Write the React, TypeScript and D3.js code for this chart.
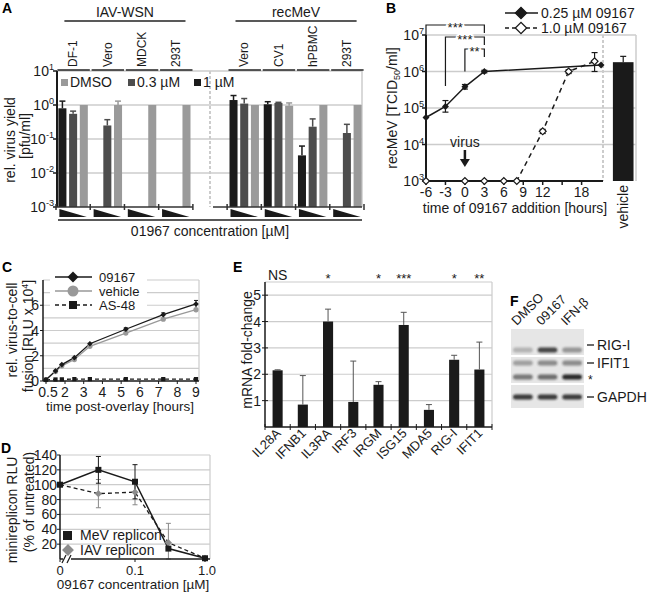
import React from "react";
import * as d3 from "d3";

const FONT = "'Liberation Sans', Arial, Helvetica, sans-serif";
const GRID = "#cccccc";
const INK = "#1a1a1a";

// ---------------- Panel A data ----------------
const aGroupLabels = ["DF-1", "Vero", "MDCK", "293T", "", "Vero", "CV1", "hPBMC", "293T"];
const aVirusNames = ["IAV-WSN", "recMeV"];
const aVirusFirst = [0, 5];
const aVirusLast = [3, 8];
const aSeriesNames = ["1 µM", "0.3 µM", "DMSO"];
const aSeriesColors = ["#1b1b1b", "#4d4d4d", "#9a9a9a"];
const aVal1uM = [0.8, 0, 0, 0, 0, 1.4, 1.05, 0.033, 0];
const aVal03uM = [0.55, 0.25, 0, 0, 0, 1.1, 1.15, 0.23, 0.15];
const aValDMSO = [1, 1, 1, 1, 0, 1, 0.95, 1, 1];
const aErr1uM = [1.3, 0, 0, 0, 0, 1.9, 1.25, 0.062, 0];
const aErr03uM = [0.66, 0.37, 0, 0, 0, 1.55, 1.2, 0.39, 0.27];
const aErrDMSO = [0, 1.3, 0, 0, 0, 0, 1.15, 0, 0];
const aYTicks = [10, 1, 0.1, 0.01, 0.001];
const aYTickExp = ["1", "0", "-1", "-2", "-3"];

// ---------------- Panel B data ----------------
const bHoursLow = [-6, -3, 0, 3, 21];
const bTiterLow = [5.5e4, 1.1e5, 3.8e5, 1.0e6, 1.5e6];
const bErrLowLo = [0, 7.7e4, 3.3e5, 9.2e5, 0];
const bErrLowHi = [0, 1.6e5, 4.4e5, 1.08e6, 0];
const bHoursHigh = [-6, 0, 3, 6, 8, 12, 16, 20];
const bTiterHigh = [1e3, 1e3, 1e3, 1e3, 1e3, 2.3e4, 1.0e6, 1.9e6];
const bErrHighLo = [0, 0, 0, 0, 0, 2.0e4, 8.8e5, 1.0e6];
const bErrHighHi = [0, 0, 0, 0, 0, 2.6e4, 1.12e6, 3.3e6];
const bVehicle = 1.8e6;
const bVehicleHi = 2.6e6;
const bXTicks = [-6, -3, 0, 3, 6, 9, 12, 15, 18];
const bXTickLabels = ["-6", "-3", "0", "3", "6", "9", "12", "", "18"];
const bYTicks = [1e3, 1e4, 1e5, 1e6, 1e7];
const bYTickExp = ["3", "4", "5", "6", "7"];
const bSigFrom = [-6, -3, 0];
const bSigTo = [3, 3, 3];
const bSigText = ["***", "***", "**"];
const bSigLegEnd = [1e7, 4e5, 1e6];
const bLegend = ["0.25 µM 09167", "1.0 µM 09167"];

// ---------------- Panel C data ----------------
const cTimes = [0.5, 1.25, 1.75, 2.5, 3.33, 5.25, 7.25, 9];
const c09167 = [0.1, 0.8, 1.3, 1.85, 2.95, 4.1, 5.25, 6.1];
const c09167Err = [0, 0.05, 0.08, 0.08, 0.1, 0.12, 0.15, 0.28];
const cVehicle = [0.1, 0.75, 1.2, 1.7, 2.75, 3.8, 4.9, 5.65];
const cVehicleErr = [0, 0.05, 0.08, 0.08, 0.1, 0.12, 0.15, 0.22];
const cAS48 = [0.1, 0.12, 0.13, 0.15, 0.15, 0.15, 0.15, 0.15];
const cXTicks = [0.5, 2, 3, 4, 5, 6, 7, 8, 9];
const cYTicks = [0, 2, 4, 6];
const cGrid = [1, 2, 3, 4, 5, 6, 7, 8];
const cLegend = ["09167", "vehicle", "AS-48"];

// ---------------- Panel D data ----------------
const dConc = [0, 0.03, 0.1, 0.3, 1.0];
const dMeV = [100, 120, 104, 14, 1];
const dMeVErr = [0, 18, 23, 0, 0];
const dIAV = [100, 88, 90, 22, 1];
const dIAVErr = [0, 19, 17, 26, 0];
const dYTicks = [20, 40, 60, 80, 100, 120, 140];
const dXTicks = [0, 0.1, 1.0];
const dXTickLabels = ["0", "0.1", "1.0"];
const dLegend = ["MeV replicon", "IAV replicon"];

// ---------------- Panel E data ----------------
const eGenes = ["IL28A", "IFNB1", "IL3RA", "IRF3", "IRGM", "ISG15", "MDA5", "RIG-I", "IFIT1"];
const eFold = [2.15, 0.85, 4.0, 0.95, 1.6, 3.87, 0.65, 2.55, 2.18];
const eErrHi = [2.17, 1.95, 4.47, 2.5, 1.72, 4.35, 0.85, 2.72, 3.22];
const eSig = ["NS", "", "*", "", "*", "***", "", "*", "**"];
const eYTicks = [1, 2, 3, 4, 5];

// ---------------- Panel F data ----------------
const fLanes = ["DMSO", "09167", "IFN-β"];
const fRigI = [0.25, 0.8, 0.4];
const fIfit1 = [0.35, 0.45, 0.45];
const fStar = [0.55, 0.6, 0.95];
const fGapdh = [0.85, 0.85, 0.85];

const Sup = ({ x, y, base, exp, size = 14, anchor = "end" }: any) => (
  <text x={x} y={y} fontSize={size} textAnchor={anchor} fill={INK}>
    {base}
    <tspan dy={-6} fontSize={size * 0.65}>{exp}</tspan>
  </text>
);

const Letter = ({ x, y, t }: any) => (
  <text x={x} y={y} fontSize={14} fontWeight="bold" fill="#000">{t}</text>
);

function diamond(size: number) {
  return d3.symbol().type(d3.symbolSquare).size(size)() as string;
}

function PanelA() {
  const n = aGroupLabels.length;
  const x = d3.scaleBand<number>().domain(d3.range(n)).range([56, 364]).paddingInner(0.14).paddingOuter(0.07);
  const bw = x.bandwidth();
  const gap = x.step() - bw;
  const sub = d3.scaleBand<number>().domain([0, 1, 2]).range([0, bw]).paddingInner(0.25);
  const y = d3.scaleLog().domain([1e-3, 10]).range([207, 71]);
  const L = 57, R = 362;
  const top = y(10), bottom = y(1e-3);
  const series = [aVal1uM, aVal03uM, aValDMSO];
  const errs = [aErr1uM, aErr03uM, aErrDMSO];
  const sepIdx = aGroupLabels.indexOf("");
  const sepX = (x(sepIdx) as number) + bw / 2;
  const groups = d3.range(n).filter((i) => aGroupLabels[i] !== "");
  const legendOrder = [2, 1, 0];
  const legendX = [61, 128, 194];
  return (
    <g>
      <Letter x={2} y={13} t="A" />
      {aYTicks.slice(0, -1).map((t) => (
        <line key={t} x1={L} x2={R} y1={y(t)} y2={y(t)} stroke={GRID} strokeWidth={1.5} />
      ))}
      <line x1={R} x2={R} y1={top} y2={bottom} stroke={GRID} strokeWidth={1.5} />
      <line x1={sepX} x2={sepX} y1={top} y2={bottom} stroke={GRID} strokeWidth={2} strokeDasharray="3,2" />
      {groups.map((i) =>
        series.map((s, k) => {
          const v = s[i];
          if (!v) return null;
          const bx = (x(i) as number) + (sub(k) as number);
          return <rect key={`${i}-${k}`} x={bx} y={y(v)} width={sub.bandwidth()} height={bottom - y(v)} fill={aSeriesColors[k]} />;
        })
      )}
      {groups.map((i) =>
        errs.map((e, k) => {
          const hi = e[i];
          const v = series[k][i];
          if (!hi || !v) return null;
          const cx = (x(i) as number) + (sub(k) as number) + sub.bandwidth() / 2;
          return (
            <g key={`e${i}-${k}`} stroke={aSeriesColors[k]} strokeWidth={1.5}>
              <line x1={cx} x2={cx} y1={y(v)} y2={y(hi)} />
              <line x1={cx - 3} x2={cx + 3} y1={y(hi)} y2={y(hi)} />
            </g>
          );
        })
      )}
      <line x1={L} x2={L} y1={top} y2={bottom} stroke={INK} strokeWidth={2} />
      {aYTicks.map((t, i) => (
        <g key={t}>
          <line x1={L - 4} x2={L} y1={y(t)} y2={y(t)} stroke={INK} strokeWidth={1.5} />
          <Sup x={L - 3} y={y(t) + 5} base="10" exp={aYTickExp[i]} size={14} />
        </g>
      ))}
      {aVirusFirst.map((f, vi) => {
        const l = aVirusLast[vi];
        const x0 = vi === 0 ? L : sepX + 3;
        const x1 = vi === 0 ? (x(l) as number) + bw + gap / 2 : R;
        const ticks = d3.range(f, l + 1).map((i) => (x(i) as number) - gap / 2).concat([(x(l) as number) + bw + gap / 2]);
        return (
          <g key={vi} stroke="#333" strokeWidth={1.5}>
            <line x1={x0} x2={x1} y1={bottom} y2={bottom} />
            {ticks.map((t, j) => (
              <line key={j} x1={t} x2={t} y1={bottom - 3} y2={bottom + 3} />
            ))}
          </g>
        );
      })}
      {groups.map((i) => {
        const x0 = (x(i) as number) + 1;
        const x1 = (x(i) as number) + bw - 1;
        return <path key={`w${i}`} d={`M${x0},209 L${x0},217 L${x1},217 Z`} fill={INK} />;
      })}
      <line x1={58} x2={R} y1={220} y2={220} stroke="#222" strokeWidth={1.5} />
      <text x={210} y={236} fontSize={14} textAnchor="middle" fill={INK}>01967 concentration [µM]</text>
      {groups.map((i) => (
        <g key={`g${i}`}>
          <text transform={`translate(${(x(i) as number) + bw / 2},67) rotate(-90)`} dy="0.35em" fontSize={12} fill={INK}>
            {aGroupLabels[i]}
          </text>
          <line x1={(x(i) as number) - 1} x2={(x(i) as number) + bw + 2} y1={top - 1} y2={top - 1} stroke="#222" strokeWidth={1.5} />
        </g>
      ))}
      {aVirusNames.map((name, vi) => {
        const x0 = (x(aVirusFirst[vi]) as number) + 6;
        const x1 = (x(aVirusLast[vi]) as number) + bw - 5;
        return (
          <g key={name}>
            <text x={(x0 + x1) / 2} y={17} fontSize={14} textAnchor="middle" fill={INK}>{name}</text>
            <line x1={x0} x2={x1} y1={21} y2={21} stroke="#222" strokeWidth={1.5} />
          </g>
        );
      })}
      {legendOrder.map((k, j) => (
        <g key={`l${k}`}>
          <rect x={legendX[j]} y={79} width={7} height={7} fill={aSeriesColors[k]} />
          <text x={legendX[j] + 9} y={87} fontSize={14} fill={INK}>{aSeriesNames[k]}</text>
        </g>
      ))}
      <text transform="translate(10,140) rotate(-90)" dy="0.35em" fontSize={14} textAnchor="middle" fill={INK}>rel. virus yield</text>
      <text transform="translate(25,136) rotate(-90)" dy="0.35em" fontSize={14} textAnchor="middle" fill={INK}>[pfu/ml]</text>
    </g>
  );
}

function PanelB() {
  const L = 426, R = 636;
  const x = d3.scaleLinear().domain([-6, 21.3]).range([L, 603]);
  const y = d3.scaleLog().domain([1e3, 1e7]).range([181, 35]);
  const vb = d3.scaleBand<string>().domain(["vehicle"]).range([603, R]).paddingOuter(0.3).align(0.8);
  const top = y(1e7), bottom = y(1e3);
  const line = d3.line<[number, number]>().x((d) => x(d[0])).y((d) => y(d[1]));
  const low = bHoursLow.map((h, i) => [h, bTiterLow[i]] as [number, number]);
  const high = bHoursHigh.map((h, i) => [h, bTiterHigh[i]] as [number, number]);
  const dia = diamond(24);
  const diaLeg = diamond(64);
  const vx = vb("vehicle") as number;
  const vw = vb.bandwidth();
  return (
    <g>
      <Letter x={386} y={13} t="B" />
      {bYTicks.slice(1).map((t) => (
        <line key={t} x1={L} x2={R} y1={y(t)} y2={y(t)} stroke={GRID} strokeWidth={1.5} />
      ))}
      <line x1={R} x2={R} y1={top} y2={bottom} stroke={GRID} strokeWidth={1.5} />
      <line x1={603} x2={603} y1={top} y2={bottom} stroke={GRID} strokeWidth={2} strokeDasharray="3,2" />
      <rect x={vx} y={y(bVehicle)} width={vw} height={bottom - y(bVehicle)} fill={INK} />
      <line x1={vx + vw / 2} x2={vx + vw / 2} y1={y(bVehicle)} y2={y(bVehicleHi)} stroke={INK} strokeWidth={1.2} />
      <line x1={vx + vw / 2 - 3} x2={vx + vw / 2 + 3} y1={y(bVehicleHi)} y2={y(bVehicleHi)} stroke={INK} strokeWidth={1.2} />
      <line x1={L} x2={L} y1={top} y2={bottom} stroke={INK} strokeWidth={2} />
      <line x1={L} x2={603} y1={bottom} y2={bottom} stroke={INK} strokeWidth={2} />
      {bYTicks.map((t, i) => (
        <g key={t}>
          <line x1={L - 4} x2={L} y1={y(t)} y2={y(t)} stroke={INK} strokeWidth={1.5} />
          <Sup x={L - 2} y={y(t) + 5} base="10" exp={bYTickExp[i]} size={14} />
        </g>
      ))}
      {bXTicks.map((t, i) => (
        <g key={t}>
          <line x1={x(t)} x2={x(t)} y1={bottom} y2={bottom + 4} stroke={INK} strokeWidth={1.5} />
          <text x={x(t)} y={bottom + 16} fontSize={14} textAnchor="middle" fill={INK}>{bXTickLabels[i]}</text>
        </g>
      ))}
      <text x={515} y={213} fontSize={14} textAnchor="middle" fill={INK}>time of 09167 addition [hours]</text>
      <text transform={`translate(${vx + vw / 2},185) rotate(-90)`} dy="0.35em" fontSize={14} textAnchor="end" fill={INK}>vehicle</text>
      <text transform="translate(392,108) rotate(-90)" dy="0.35em" fontSize={14} textAnchor="middle" fill={INK}>
        recMeV [TCID<tspan dy={3} fontSize={9}>50</tspan>
        <tspan dy={-3}>/ml]</tspan>
      </text>
      <path d={line(high) as string} fill="none" stroke={INK} strokeWidth={1.5} strokeDasharray="5,4" />
      <path d={line(low) as string} fill="none" stroke={INK} strokeWidth={1.5} />
      {high.map((d, i) =>
        bErrHighHi[i] ? (
          <g key={`eh${i}`} stroke={INK} strokeWidth={1.2}>
            <line x1={x(d[0])} x2={x(d[0])} y1={y(bErrHighLo[i])} y2={y(bErrHighHi[i])} />
            <line x1={x(d[0]) - 3} x2={x(d[0]) + 3} y1={y(bErrHighLo[i])} y2={y(bErrHighLo[i])} />
            <line x1={x(d[0]) - 3} x2={x(d[0]) + 3} y1={y(bErrHighHi[i])} y2={y(bErrHighHi[i])} />
          </g>
        ) : null
      )}
      {low.map((d, i) =>
        bErrLowHi[i] ? (
          <g key={`el${i}`} stroke={INK} strokeWidth={1.2}>
            <line x1={x(d[0])} x2={x(d[0])} y1={y(bErrLowLo[i])} y2={y(bErrLowHi[i])} />
            <line x1={x(d[0]) - 3} x2={x(d[0]) + 3} y1={y(bErrLowLo[i])} y2={y(bErrLowLo[i])} />
            <line x1={x(d[0]) - 3} x2={x(d[0]) + 3} y1={y(bErrLowHi[i])} y2={y(bErrLowHi[i])} />
          </g>
        ) : null
      )}
      {high.map((d, i) => (
        <path key={`mh${i}`} d={dia} transform={`translate(${x(d[0])},${y(d[1])}) rotate(45)`} fill="#fff" stroke={INK} strokeWidth={1.2} />
      ))}
      {low.map((d, i) => (
        <path key={`ml${i}`} d={dia} transform={`translate(${x(d[0])},${y(d[1])}) rotate(45)`} fill={INK} />
      ))}
      {bSigFrom.map((f, i) => {
        const lvl = top - 10 + 12 * i;
        const x0 = x(f), x1 = x(bSigTo[i]);
        return (
          <g key={`s${i}`}>
            <path d={`M${x0},${y(bSigLegEnd[i])} L${x0},${lvl} L${x1},${lvl} L${x1},${lvl + 8}`} fill="none" stroke={INK} strokeWidth={1.2} />
            <text x={(x0 + x1) / 2} y={lvl + 7} fontSize={13} textAnchor="middle" fill={INK} stroke="#fff" strokeWidth={3} paintOrder="stroke">{bSigText[i]}</text>
          </g>
        );
      })}
      <text x={x(0)} y={147} fontSize={14} textAnchor="middle" fill={INK}>virus</text>
      <line x1={x(0)} x2={x(0)} y1={150} y2={160} stroke={INK} strokeWidth={2.5} />
      <path d={`M${x(0) - 5},${159} L${x(0) + 5},${159} L${x(0)},${167} Z`} fill={INK} />
      {bLegend.map((t, i) => (
        <g key={t}>
          <line x1={505} x2={538} y1={13 + 15 * i} y2={13 + 15 * i} stroke={INK} strokeWidth={1.5} strokeDasharray={i ? "4,3" : undefined} />
          <path d={diaLeg} transform={`translate(521,${13 + 15 * i}) rotate(45)`} fill={i ? "#fff" : INK} stroke={INK} strokeWidth={1.3} />
          <text x={541} y={18 + 15 * i} fontSize={14} fill={INK}>{t}</text>
        </g>
      ))}
    </g>
  );
}

function PanelC() {
  const L = 43, R = 199;
  const x = d3.scaleLinear().domain([0.5, 2, 9]).range([46, 65, 196]);
  const y = d3.scaleLinear().domain([0, 8]).range([381, 280]);
  const line = d3.line<number>().x((_, i) => x(cTimes[i])).y((d) => y(d));
  const dia = diamond(16);
  const sq = d3.symbol().type(d3.symbolSquare).size(18)() as string;
  const legY = [277, 291, 305];
  return (
    <g>
      <Letter x={2} y={272} t="C" />
      {cGrid.map((t) => (
        <line key={t} x1={L} x2={R} y1={y(t)} y2={y(t)} stroke={GRID} strokeWidth={1.2} />
      ))}
      <line x1={R} x2={R} y1={y(8)} y2={y(0)} stroke={GRID} strokeWidth={1.2} />
      <rect x={50} y={269} width={97} height={42} fill="#fff" />
      <path d={line(cAS48) as string} fill="none" stroke={INK} strokeWidth={1.3} strokeDasharray="4,3" />
      <path d={line(cVehicle) as string} fill="none" stroke="#999" strokeWidth={1.3} />
      <path d={line(c09167) as string} fill="none" stroke={INK} strokeWidth={1.3} />
      {c09167.map((v, i) =>
        c09167Err[i] > 0.1 ? (
          <g key={`e1${i}`} stroke={INK} strokeWidth={1}>
            <line x1={x(cTimes[i])} x2={x(cTimes[i])} y1={y(v - c09167Err[i])} y2={y(v + c09167Err[i])} />
            <line x1={x(cTimes[i]) - 2} x2={x(cTimes[i]) + 2} y1={y(v + c09167Err[i])} y2={y(v + c09167Err[i])} />
          </g>
        ) : null
      )}
      {cVehicle.map((v, i) =>
        cVehicleErr[i] > 0.1 ? (
          <g key={`e2${i}`} stroke="#999" strokeWidth={1}>
            <line x1={x(cTimes[i])} x2={x(cTimes[i])} y1={y(v - cVehicleErr[i])} y2={y(v + cVehicleErr[i])} />
          </g>
        ) : null
      )}
      {cVehicle.map((v, i) => (
        <circle key={`mv${i}`} cx={x(cTimes[i])} cy={y(v)} r={2.6} fill="#999" />
      ))}
      {c09167.map((v, i) => (
        <path key={`m1${i}`} d={dia} transform={`translate(${x(cTimes[i])},${y(v)}) rotate(45)`} fill={INK} />
      ))}
      {cAS48.map((v, i) => (
        <path key={`m3${i}`} d={sq} transform={`translate(${x(cTimes[i])},${y(v)})`} fill={INK} />
      ))}
      <line x1={L} x2={L} y1={y(8)} y2={y(0)} stroke={INK} strokeWidth={1.5} />
      <line x1={L} x2={R} y1={y(0)} y2={y(0)} stroke={INK} strokeWidth={1.5} />
      {cYTicks.map((t) => (
        <g key={t}>
          <line x1={L - 3} x2={L} y1={y(t)} y2={y(t)} stroke={INK} />
          <text x={L - 4} y={y(t) + 5} fontSize={14} textAnchor="end" fill={INK}>{t}</text>
        </g>
      ))}
      {cXTicks.map((t) => (
        <g key={t}>
          <line x1={x(t)} x2={x(t)} y1={y(0)} y2={y(0) + 3} stroke={INK} />
          <text x={x(t) + (t === 0.5 ? 2 : 0)} y={y(0) + 16} fontSize={14} textAnchor="middle" fill={INK}>{t}</text>
        </g>
      ))}
      <text x={120} y={411} fontSize={13.5} textAnchor="middle" fill={INK}>time post-overlay [hours]</text>
      <text transform="translate(12,330) rotate(-90)" dy="0.35em" fontSize={14} textAnchor="middle" fill={INK}>rel. virus-to-cell</text>
      <text transform="translate(28,336) rotate(-90)" dy="0.35em" fontSize={14} textAnchor="middle" fill={INK}>
        fusion [RLU x 10<tspan dy={-5} fontSize={9}>4</tspan><tspan dy={5}>]</tspan>
      </text>
      {cLegend.map((t, i) => (
        <g key={t}>
          <line x1={55} x2={92} y1={legY[i]} y2={legY[i]} stroke={i === 1 ? "#999" : INK} strokeWidth={1.6} strokeDasharray={i === 2 ? "4,3" : undefined} />
          {i === 0 && <path d={diamond(60)} transform={`translate(73,${legY[i]}) rotate(45)`} fill={INK} />}
          {i === 1 && <circle cx={73} cy={legY[i]} r={5.5} fill="#999" />}
          {i === 2 && <rect x={69} y={legY[i] - 4} width={8} height={8} fill={INK} />}
          <text x={99} y={legY[i] + 4.5} fontSize={13} fill={INK}>{t}</text>
        </g>
      ))}
    </g>
  );
}

function PanelD() {
  const L = 60, R = 210;
  const xl = d3.scaleLog().domain([0.01, 1]).range([65, 205]);
  const xp = (c: number) => (c === 0 ? L : xl(c));
  const y = d3.scaleLinear().domain([0, 140]).range([559, 455]);
  const lineGen = d3.line<number>().x((_, i) => xp(dConc[i])).y((d) => y(d));
  const dia = diamond(26);
  const sq = d3.symbol().type(d3.symbolSquare).size(36)() as string;
  return (
    <g>
      <Letter x={1} y={453} t="D" />
      {dYTicks.map((t) => (
        <line key={t} x1={L} x2={R} y1={y(t)} y2={y(t)} stroke={GRID} strokeWidth={1.2} />
      ))}
      <line x1={R} x2={R} y1={y(140)} y2={y(0)} stroke={GRID} strokeWidth={1.2} />
      <path d={lineGen(dIAV) as string} fill="none" stroke={INK} strokeWidth={1.3} strokeDasharray="4,3" />
      <path d={lineGen(dMeV) as string} fill="none" stroke={INK} strokeWidth={1.5} />
      {dIAV.map((v, i) =>
        dIAVErr[i] ? (
          <g key={`ei${i}`} stroke="#888" strokeWidth={1}>
            <line x1={xp(dConc[i])} x2={xp(dConc[i])} y1={y(Math.max(0, v - dIAVErr[i]))} y2={y(v + dIAVErr[i])} />
            <line x1={xp(dConc[i]) - 2.5} x2={xp(dConc[i]) + 2.5} y1={y(v + dIAVErr[i])} y2={y(v + dIAVErr[i])} />
            <line x1={xp(dConc[i]) - 2.5} x2={xp(dConc[i]) + 2.5} y1={y(Math.max(0, v - dIAVErr[i]))} y2={y(Math.max(0, v - dIAVErr[i]))} />
          </g>
        ) : null
      )}
      {dMeV.map((v, i) =>
        dMeVErr[i] ? (
          <g key={`em${i}`} stroke={INK} strokeWidth={1}>
            <line x1={xp(dConc[i])} x2={xp(dConc[i])} y1={y(v - dMeVErr[i])} y2={y(v + dMeVErr[i])} />
            <line x1={xp(dConc[i]) - 2.5} x2={xp(dConc[i]) + 2.5} y1={y(v + dMeVErr[i])} y2={y(v + dMeVErr[i])} />
            <line x1={xp(dConc[i]) - 2.5} x2={xp(dConc[i]) + 2.5} y1={y(v - dMeVErr[i])} y2={y(v - dMeVErr[i])} />
          </g>
        ) : null
      )}
      {dIAV.map((v, i) => (
        <path key={`mi${i}`} d={dia} transform={`translate(${xp(dConc[i])},${y(v)}) rotate(45)`} fill="#8c8c8c" />
      ))}
      {dMeV.map((v, i) => (
        <path key={`mm${i}`} d={sq} transform={`translate(${xp(dConc[i])},${y(v)})`} fill={INK} />
      ))}
      <line x1={L} x2={L} y1={y(140)} y2={y(0)} stroke={INK} strokeWidth={1.5} />
      <line x1={L} x2={R} y1={y(0)} y2={y(0)} stroke={INK} strokeWidth={1.5} />
      <rect x={63} y={y(0) - 3} width={8} height={6} fill="#fff" />
      <line x1={62} x2={66} y1={y(0) + 4} y2={y(0) - 4} stroke={INK} strokeWidth={1.2} />
      <line x1={67} x2={71} y1={y(0) + 4} y2={y(0) - 4} stroke={INK} strokeWidth={1.2} />
      {dYTicks.map((t) => (
        <g key={t}>
          <line x1={L - 3} x2={L} y1={y(t)} y2={y(t)} stroke={INK} />
          <text x={L - 3} y={y(t) + 5} fontSize={14} textAnchor="end" fill={INK}>{t}</text>
        </g>
      ))}
      {dXTicks.map((t, i) => (
        <g key={t}>
          <line x1={xp(t)} x2={xp(t)} y1={y(0)} y2={y(0) + 3} stroke={INK} />
          <text x={xp(t) + (i === 2 ? 2 : 0)} y={y(0) + 16} fontSize={13} textAnchor="middle" fill={INK}>{dXTickLabels[i]}</text>
        </g>
      ))}
      <text x={133} y={589} fontSize={13.5} textAnchor="middle" fill={INK}>09167 concentration [µM]</text>
      <text transform="translate(12,510) rotate(-90)" dy="0.35em" fontSize={14} textAnchor="middle" fill={INK}>minireplicon RLU</text>
      <text transform="translate(29,502) rotate(-90)" dy="0.35em" fontSize={14} textAnchor="middle" fill={INK}>(% of untreated)</text>
      <rect x={63} y={531} width={9} height={9} fill={INK} />
      <text x={80} y={540} fontSize={14} fill={INK}>{dLegend[0]}</text>
      <path d={diamond(70)} transform="translate(68,550) rotate(45)" fill="#8c8c8c" />
      <text x={80} y={555} fontSize={14} fill={INK}>{dLegend[1]}</text>
    </g>
  );
}

function PanelE() {
  const L = 265, R = 492;
  const x = d3.scaleBand<string>().domain(eGenes).range([L, R]).paddingInner(0.6).paddingOuter(0.3);
  const y = d3.scaleLinear().domain([0, 5.5]).range([427, 282]);
  const step = x.step();
  const bw = x.bandwidth();
  return (
    <g>
      <Letter x={233} y={272} t="E" />
      {eYTicks.concat([5.5]).map((t) => (
        <line key={t} x1={L} x2={R} y1={y(t)} y2={y(t)} stroke={GRID} strokeWidth={1.2} />
      ))}
      <line x1={R} x2={R} y1={y(5.5)} y2={y(0)} stroke={GRID} strokeWidth={1.2} />
      {eGenes.map((g, i) => {
        const bx = x(g) as number;
        const cx = bx + bw / 2;
        return (
          <g key={g}>
            <rect x={bx} y={y(eFold[i])} width={bw} height={y(0) - y(eFold[i])} fill={INK} />
            <line x1={cx} x2={cx} y1={y(eFold[i])} y2={y(eErrHi[i])} stroke="#555" strokeWidth={1} />
            <line x1={cx - 3} x2={cx + 3} y1={y(eErrHi[i])} y2={y(eErrHi[i])} stroke="#555" strokeWidth={1} />
            <text transform={`translate(${cx + 4},434) rotate(-45)`} fontSize={13} textAnchor="end" fill={INK}>{g}</text>
            {eSig[i] && (
              <text x={cx} y={eSig[i] === "NS" ? 280 : 283} fontSize={eSig[i] === "NS" ? 14 : 13} textAnchor="middle" fill={INK}>{eSig[i]}</text>
            )}
          </g>
        );
      })}
      <line x1={L} x2={L} y1={y(5.5)} y2={y(0)} stroke={INK} strokeWidth={1.5} />
      <line x1={L} x2={R} y1={y(0)} y2={y(0)} stroke={INK} strokeWidth={1.5} />
      {d3.range(eGenes.length + 1).map((i) => (
        <line key={i} x1={L + i * step} x2={L + i * step} y1={y(0) - 3} y2={y(0) + 3} stroke={INK} />
      ))}
      {eYTicks.map((t) => (
        <g key={t}>
          <line x1={L - 3} x2={L + 3} y1={y(t)} y2={y(t)} stroke={INK} />
          <text x={L - 4} y={y(t) + 5} fontSize={14} textAnchor="end" fill={INK}>{t}</text>
        </g>
      ))}
      <text transform="translate(247,350) rotate(-90)" dy="0.35em" fontSize={14} textAnchor="middle" fill={INK}>mRNA fold-change</text>
    </g>
  );
}

function PanelF() {
  const lanes = d3.scaleBand<string>().domain(fLanes).range([511, 584]).paddingInner(0.04);
  const bw = lanes.bandwidth();
  const strips = [
    { y0: 329, y1: 355, bands: [{ v: fRigI, y: 350 }] },
    { y0: 357, y1: 383, bands: [{ v: fIfit1, y: 363 }, { v: fStar, y: 377 }] },
    { y0: 385, y1: 408, bands: [{ v: fGapdh, y: 397 }] },
  ];
  const labels = [
    { t: "RIG-I", y: 345, dash: true },
    { t: "IFIT1", y: 363, dash: true },
    { t: "*", y: 379, dash: false },
    { t: "GAPDH", y: 397, dash: true },
  ];
  return (
    <g>
      <defs>
        <filter id="blotblur" x="-20%" y="-100%" width="140%" height="300%">
          <feGaussianBlur stdDeviation="1.3" />
        </filter>
      </defs>
      <Letter x={510} y={306} t="F" />
      {strips.map((s, si) => (
        <g key={si}>
          <rect x={511} y={s.y0} width={73} height={s.y1 - s.y0} fill="#e6e6e6" />
          {s.bands.map((b, bi) =>
            fLanes.map((ln, li) => (
              <rect key={`${bi}-${li}`} x={(lanes(ln) as number) + 2} y={b.y - 2.5} width={bw - 4} height={5} rx={2.5} fill="#1a1a1a" opacity={b.v[li]} filter="url(#blotblur)" />
            ))
          )}
        </g>
      ))}
      {fLanes.map((ln) => (
        <text key={ln} transform={`translate(${(lanes(ln) as number) + bw / 2 - 6},326) rotate(-45)`} fontSize={13} fill={INK}>{ln}</text>
      ))}
      {labels.map((l) => (
        <g key={l.t}>
          {l.dash && <line x1={587} x2={594} y1={l.y} y2={l.y} stroke={INK} strokeWidth={1.3} />}
          <text x={l.dash ? 597 : 588} y={l.y + 5} fontSize={l.dash ? 14 : 12} fill={INK}>{l.t}</text>
        </g>
      ))}
    </g>
  );
}

export default function App() {
  return (
    <div style={{ position: "absolute", left: 0, top: 0 }}>
      <svg width={650} height={592} viewBox="0 0 650 592" style={{ display: "block", fontFamily: FONT }}>
        <rect width={650} height={592} fill="#fff" />
        <PanelA />
        <PanelB />
        <PanelC />
        <PanelD />
        <PanelE />
        <PanelF />
      </svg>
    </div>
  );
}
